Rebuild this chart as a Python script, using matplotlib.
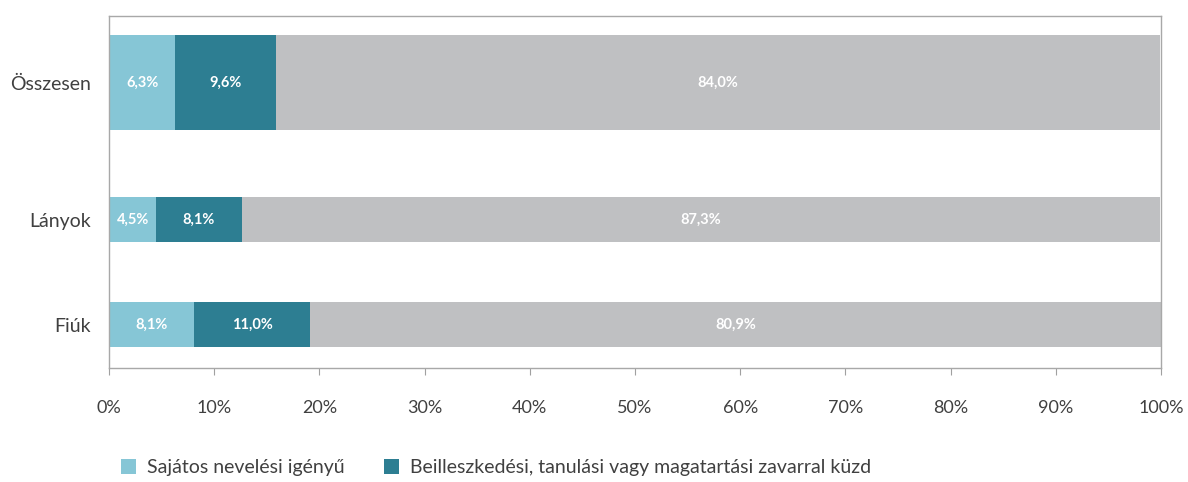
import matplotlib.pyplot as plt
import numpy as np

plt.rcParams['font.family'] = ['Lato', 'DejaVu Sans']

# Categories (bottom to top) and shares in percent
categories = ['Fiúk', 'Lányok', 'Összesen']
sni = [8.1, 4.5, 6.3]
btm = [11.0, 8.1, 9.6]
other = [80.9, 87.3, 84.0]

series_names = ['Sajátos nevelési igényű',
                'Beilleszkedési, tanulási vagy magatartási zavarral küzd']
colors = ['#86c6d6', '#2d7e92', '#bfc0c2']

# bar layout (the total bar is drawn thicker, as in the original)
ypos = [0, 1, 2.305]
heights = [0.43, 0.43, 0.905]

fig = plt.figure(figsize=(11.88, 4.82), dpi=100)
ax = fig.add_axes([0.0918, 0.2365, 0.8855, 0.7303])

left = np.zeros(len(categories))
bars = []
for vals, col in zip([sni, btm, other], colors):
    b = ax.barh(ypos, vals, height=heights, left=left, color=col, edgecolor='none')
    bars.append(b)
    for y, l, v in zip(ypos, left, vals):
        ax.text(l + v / 2, y, f'{v:.1f}%'.replace('.', ','), ha='center', va='center',
                color='white', fontsize=10.5, fontweight='bold')
    left += np.array(vals)

ax.set_xlim(0, 100)
ax.set_ylim(-0.414, 2.938)
ax.set_xticks(np.arange(0, 101, 10))
ax.set_xticklabels([f'{t}%' for t in range(0, 101, 10)])
ax.set_yticks(ypos)
ax.set_yticklabels(categories)

ax.tick_params(axis='x', direction='out', length=5, pad=18, colors='#a0a0a0',
               labelcolor='#404040', labelsize=13)
ax.tick_params(axis='y', length=0, pad=13, labelcolor='#404040', labelsize=14)
for s in ax.spines.values():
    s.set_color('#a8a8a8')
    s.set_linewidth(1)

fig.legend(bars[:2], series_names, loc='lower left', bbox_to_anchor=(0.087, -0.024),
           ncol=2, frameon=False, fontsize=14, handlelength=0.8, handleheight=0.8,
           handletextpad=0.55, columnspacing=2.0, labelcolor='#404040')

plt.savefig('out.png', dpi=100)
